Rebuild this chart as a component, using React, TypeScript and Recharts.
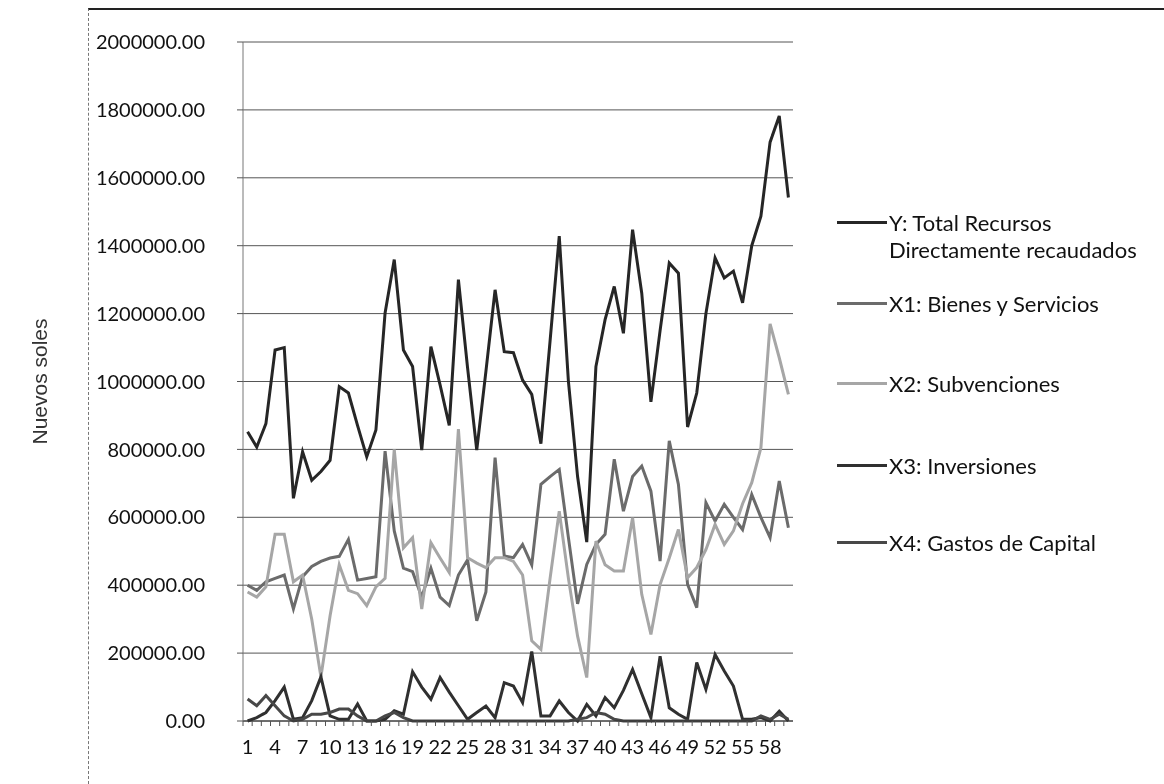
import { LineChart, Line, XAxis, YAxis, CartesianGrid } from 'recharts';

const periods = [
  1, 2, 3, 4, 5, 6, 7, 8, 9, 10, 11, 12, 13, 14, 15, 16, 17, 18, 19, 20,
  21, 22, 23, 24, 25, 26, 27, 28, 29, 30, 31, 32, 33, 34, 35, 36, 37, 38, 39, 40,
  41, 42, 43, 44, 45, 46, 47, 48, 49, 50, 51, 52, 53, 54, 55, 56, 57, 58, 59, 60,
];

// Y: Total Recursos Directamente recaudados
const totalRecursos = [
  852000, 807000, 876000, 1093000, 1100000, 656000, 793000, 709000, 735000, 768000,
  985000, 966000, 870000, 778000, 857000, 1202000, 1359000, 1093000, 1044000, 798000,
  1103000, 990000, 871000, 1300000, 1040000, 798000, 1030000, 1270000, 1088000, 1085000,
  1004000, 962000, 817000, 1120000, 1428000, 1000000, 720000, 527000, 1044000, 1182000,
  1280000, 1142000, 1447000, 1260000, 940000, 1150000, 1349000, 1319000, 866000, 966000,
  1200000, 1364000, 1305000, 1325000, 1232000, 1400000, 1487000, 1705000, 1782000, 1542000,
];

// X1: Bienes y Servicios
const bienesServicios = [
  400000, 385000, 410000, 420000, 430000, 330000, 425000, 455000, 470000, 480000,
  485000, 535000, 415000, 420000, 425000, 795000, 560000, 450000, 440000, 365000,
  450000, 365000, 340000, 430000, 475000, 295000, 380000, 776000, 486000, 481000,
  520000, 460000, 697000, 720000, 741000, 540000, 345000, 461000, 520000, 550000,
  771000, 618000, 720000, 751000, 677000, 471000, 825000, 697000, 402000, 334000,
  643000, 589000, 638000, 600000, 564000, 667000, 600000, 540000, 707000, 569000,
];

// X2: Subvenciones
const subvenciones = [
  380000, 365000, 395000, 550000, 550000, 410000, 430000, 300000, 130000, 310000,
  460000, 385000, 375000, 340000, 395000, 420000, 800000, 510000, 540000, 330000,
  525000, 480000, 437000, 860000, 481000, 465000, 452000, 481000, 481000, 470000,
  430000, 236000, 211000, 420000, 618000, 420000, 250000, 128000, 530000, 460000,
  442000, 442000, 599000, 373000, 255000, 402000, 480000, 564000, 422000, 452000,
  505000, 579000, 520000, 560000, 640000, 702000, 805000, 1170000, 1070000, 962000,
];

// X3: Inversiones
const inversiones = [
  0, 10000, 25000, 60000, 100000, 5000, 10000, 60000, 130000, 15000,
  5000, 5000, 50000, 0, 0, 5000, 30000, 20000, 145000, 100000,
  64000, 128000, 85000, 45000, 5000, 25000, 44000, 10000, 113000, 103000,
  54000, 205000, 15000, 15000, 59000, 25000, 0, 49000, 15000, 69000,
  39000, 90000, 152000, 80000, 10000, 191000, 39000, 20000, 5000, 172000,
  93000, 196000, 147000, 103000, 5000, 5000, 10000, 0, 29000, 0,
];

// X4: Gastos de Capital
const gastosCapital = [
  65000, 45000, 75000, 45000, 15000, 0, 5000, 20000, 20000, 25000,
  35000, 35000, 15000, 0, 0, 15000, 25000, 10000, 0, 0,
  0, 0, 0, 0, 0, 0, 0, 0, 0, 0,
  0, 0, 0, 0, 0, 0, 5000, 10000, 25000, 20000,
  5000, 0, 0, 0, 0, 0, 0, 0, 0, 0,
  0, 0, 0, 0, 0, 0, 15000, 5000, 20000, 5000,
];

const yTicks = [0, 200000, 400000, 600000, 800000, 1000000, 1200000, 1400000, 1600000, 1800000, 2000000];

const series = [
  { key: 'y', label: ['Y: Total Recursos', 'Directamente recaudados'], color: '#262626', values: totalRecursos },
  { key: 'x1', label: ['X1: Bienes y Servicios'], color: '#6b6b6b', values: bienesServicios },
  { key: 'x2', label: ['X2: Subvenciones'], color: '#a6a6a6', values: subvenciones },
  { key: 'x3', label: ['X3: Inversiones'], color: '#303030', values: inversiones },
  { key: 'x4', label: ['X4: Gastos de Capital'], color: '#484848', values: gastosCapital },
];

const data = periods.map((p, i) => {
  const row: Record<string, number> = { n: p };
  series.forEach((s) => {
    row[s.key] = s.values[i];
  });
  return row;
});

const FONT = 'Lato, "Open Sans", sans-serif';

const XTick = (props: any) => {
  const { x, y, payload } = props;
  const idx = payload?.index ?? props.index ?? 0;
  const half = payload?.offset ?? 0;
  return (
    <g>
      <line x1={x - half} y1={y - 8} x2={x - half} y2={y - 3} stroke="#555" />
      {idx % 3 === 0 && (
        <text x={x} y={y} dy={25} textAnchor="middle" fontSize={20} fontFamily={FONT} fill="#111">
          {payload.value}
        </text>
      )}
    </g>
  );
};

const legendTops = [214, 295, 375, 457, 534];

export default function App() {
  return (
    <div style={{ position: 'relative', width: 1148, height: 768 }}>
      <div
        style={{
          position: 'fixed',
          left: 88,
          top: 8,
          right: 0,
          bottom: 0,
          borderTop: '2px solid #222',
          borderLeft: '1px dashed #777',
          pointerEvents: 'none',
        }}
      />
      <LineChart width={1148} height={768} data={data} margin={{ top: 34, right: 363, bottom: 15, left: 0 }}>
        <CartesianGrid vertical={false} stroke="#555" />
        <XAxis
          dataKey="n"
          scale="band"
          interval={0}
          height={40}
          tickLine={false}
          axisLine={{ stroke: '#333' }}
          tick={<XTick />}
        />
        <YAxis
          width={235}
          domain={[0, 2000000]}
          ticks={yTicks}
          interval={0}
          tickFormatter={(v: number) => v.toFixed(2)}
          tickSize={6}
          tickMargin={32}
          tickLine={{ stroke: '#555' }}
          axisLine={{ stroke: '#777' }}
          tick={{ fontSize: 20, fontFamily: FONT, fill: '#111' }}
          label={{
            value: 'Nuevos soles',
            angle: -90,
            position: 'insideLeft',
            offset: 32,
            style: { textAnchor: 'middle', fontSize: 21, fontFamily: '"Liberation Sans", Arial, sans-serif', fill: '#333' },
          }}
        />
        {series.map((s) => (
          <Line
            key={s.key}
            dataKey={s.key}
            type="linear"
            stroke={s.color}
            strokeWidth={3}
            dot={false}
            isAnimationActive={false}
          />
        ))}
      </LineChart>
      {series.map((s, i) => (
        <div
          key={s.key}
          style={{ position: 'absolute', left: 829, top: legendTops[i] - 13, fontFamily: FONT, fontSize: 22, color: '#111' }}
        >
          {s.label.map((t, j) => (
            <div key={t} style={{ display: 'flex', alignItems: 'center', height: 27, lineHeight: '27px' }}>
              <span
                style={{
                  display: 'inline-block',
                  width: 50,
                  height: 3,
                  marginRight: 2,
                  background: j === 0 ? s.color : 'transparent',
                }}
              />
              <span>{t}</span>
            </div>
          ))}
        </div>
      ))}
    </div>
  );
}
